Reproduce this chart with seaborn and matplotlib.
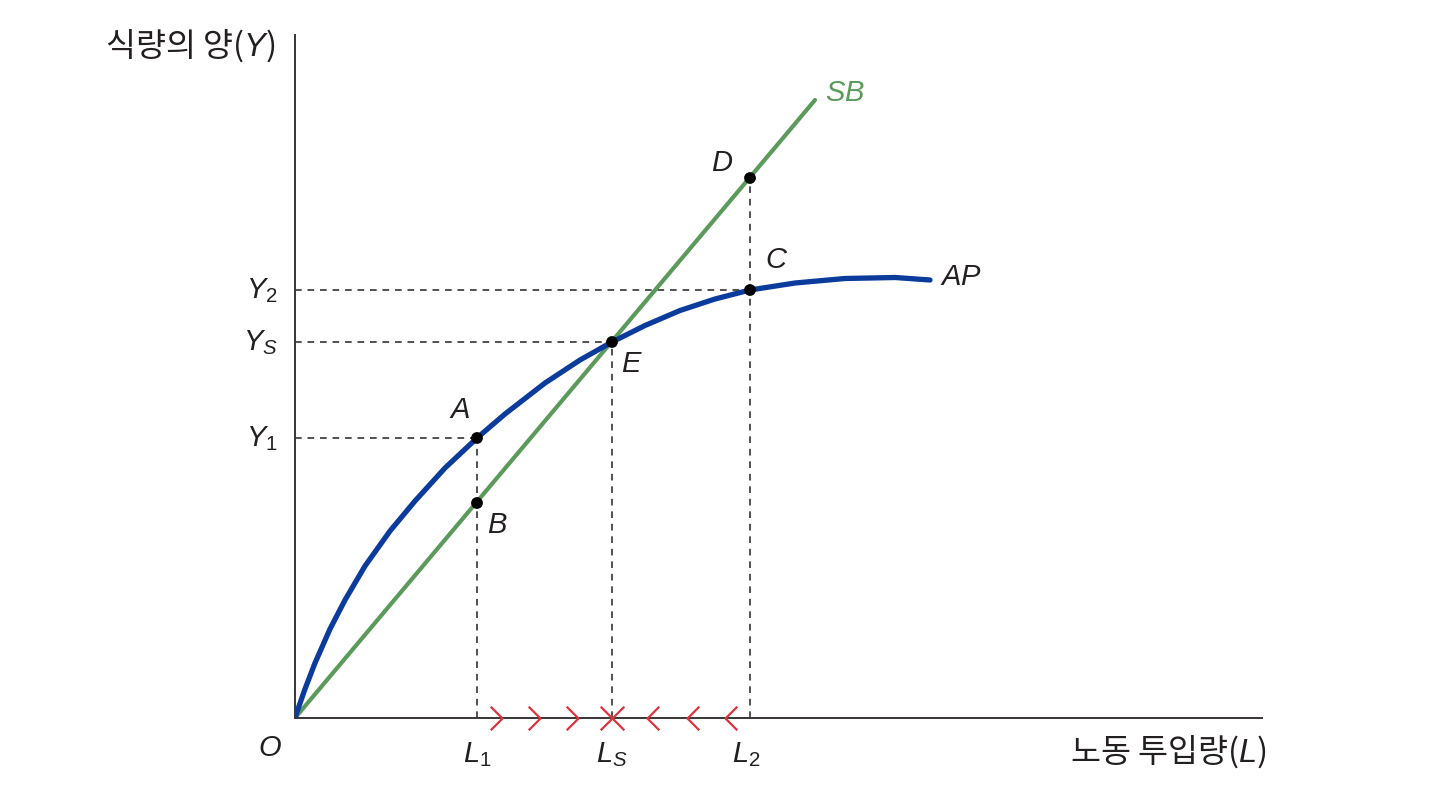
import matplotlib
matplotlib.use("Agg")
import matplotlib.pyplot as plt
from matplotlib.path import Path
import seaborn as sns
import pandas as pd

# --- data (units: axis scale, origin at O) ---
ap_x = [0.0, 0.03, 0.10, 0.20, 0.35, 0.50, 0.70, 0.95, 1.20, 1.50, 1.82,
        2.10, 2.50, 2.85, 3.17, 3.50, 3.85, 4.20, 4.55, 5.00, 5.50, 6.00, 6.35]
ap_y = [0.0, 0.09, 0.29, 0.55, 0.89, 1.18, 1.52, 1.87, 2.17, 2.50, 2.80,
        3.04, 3.35, 3.58, 3.76, 3.925, 4.075, 4.19, 4.28, 4.35, 4.395, 4.405, 4.38]
sb_x = [0.0, 5.20]
sb_y = [0.0, 6.18]

point_names = ["A", "B", "E", "D", "C"]
point_x = [1.82, 1.82, 3.17, 4.55, 4.55]
point_y = [2.80, 2.15, 3.76, 5.40, 4.28]

# guide levels
L1, LS, L2 = 1.82, 3.17, 4.55
Y1, YS, Y2 = 2.80, 3.76, 4.28

# adjustment arrows on the L axis (tip positions)
right_arrows = [2.07, 2.45, 2.83, 3.17]
left_arrows = [3.17, 3.52, 3.92, 4.30]

BLUE = "#0b3b9b"
GREEN = "#5b9a5b"
DARK = "#333333"
RED = "#e0333d"

sns.set_theme(style="white")
plt.rcParams["font.family"] = ["Noto Sans CJK KR", "Liberation Sans", "DejaVu Sans"]
plt.rcParams["mathtext.fontset"] = "custom"
plt.rcParams["mathtext.rm"] = "Liberation Sans"
plt.rcParams["mathtext.it"] = "Liberation Sans:italic"

fig = plt.figure(figsize=(14.42, 7.87), dpi=100)
ax = fig.add_axes([295 / 1442, 69 / 787, 967 / 1442, 683 / 787])
ax.set_xlim(0, 9.67)
ax.set_ylim(0, 6.83)

# dashed guides
dash = dict(color=DARK, lw=1.2, ls=(0, (4, 3.5)), zorder=1)
ax.plot([0, L1], [Y1, Y1], **dash)
ax.plot([0, LS], [YS, YS], **dash)
ax.plot([0, L2], [Y2, Y2], **dash)
ax.plot([L1, L1], [0, Y1], **dash)
ax.plot([LS, LS], [0, YS], **dash)
ax.plot([L2, L2], [0, point_y[3]], **dash)

# curves
ap = pd.DataFrame({"L": ap_x, "Y": ap_y})
sb = pd.DataFrame({"L": sb_x, "Y": sb_y})
sns.lineplot(data=sb, x="L", y="Y", ax=ax, color=GREEN, lw=3.0, sort=False, zorder=2)
sns.lineplot(data=ap, x="L", y="Y", ax=ax, color=BLUE, lw=3.8, sort=False, zorder=3,
             solid_joinstyle="round")

# points
ax.scatter(point_x, point_y, s=72, color="black", zorder=5, edgecolor="none")

# arrows on axis
chev_r = Path([(-1, 1), (0, 0), (-1, -1)], [Path.MOVETO, Path.LINETO, Path.LINETO])
chev_l = Path([(1, 1), (0, 0), (1, -1)], [Path.MOVETO, Path.LINETO, Path.LINETO])
ax.plot(right_arrows, [0] * len(right_arrows), ls="none", marker=chev_r, ms=17,
        mfc="none", mec=RED, mew=1.6, clip_on=False, zorder=6)
ax.plot(left_arrows, [0] * len(left_arrows), ls="none", marker=chev_l, ms=17,
        mfc="none", mec=RED, mew=1.6, clip_on=False, zorder=6)

# axes
for s in ["top", "right"]:
    ax.spines[s].set_visible(False)
for s in ["left", "bottom"]:
    ax.spines[s].set_color("#3a3535")
    ax.spines[s].set_linewidth(1.4)
ax.set_xticks([])
ax.set_yticks([])
ax.set_xlabel("")
ax.set_ylabel("")

fs = 21
txt = dict(fontsize=fs, color="#231f20")
# axis titles
ax.text(-0.20, 6.72, "식량의 양($Y$)", ha="right", va="center", fontsize=23.5, color="#231f20")
ax.text(9.72, -0.34, "노동 투입량($L$)", ha="right", va="center", fontsize=23.5, color="#231f20")
ax.text(-0.25, -0.30, "$O$", ha="center", va="center", **txt)

# axis level labels
ax.text(-0.17, Y2, "$Y_2$", ha="right", va="center", **txt)
ax.text(-0.17, YS, "$Y_S$", ha="right", va="center", **txt)
ax.text(-0.17, Y1, "$Y_1$", ha="right", va="center", **txt)
ax.text(L1, -0.36, "$L_1$", ha="center", va="center", **txt)
ax.text(LS, -0.36, "$L_S$", ha="center", va="center", **txt)
ax.text(L2 - 0.04, -0.36, "$L_2$", ha="center", va="center", **txt)

# point labels
offsets = {"A": (-0.17, 0.28), "B": (0.20, -0.22), "E": (0.20, -0.22),
           "D": (-0.28, 0.15), "C": (0.27, 0.30)}
for n, x, y in zip(point_names, point_x, point_y):
    dx, dy = offsets[n]
    ax.text(x + dx, y + dy, "$" + n + "$", ha="center", va="center", **txt)

ax.text(ap_x[-1] + 0.10, ap_y[-1] + 0.03, "$AP$", ha="left", va="center", **txt)
ax.text(sb_x[-1] + 0.10, sb_y[-1] + 0.07, "$SB$", ha="left", va="center",
        fontsize=fs, color=GREEN)

fig.savefig("out.png", dpi=100, facecolor="white")
